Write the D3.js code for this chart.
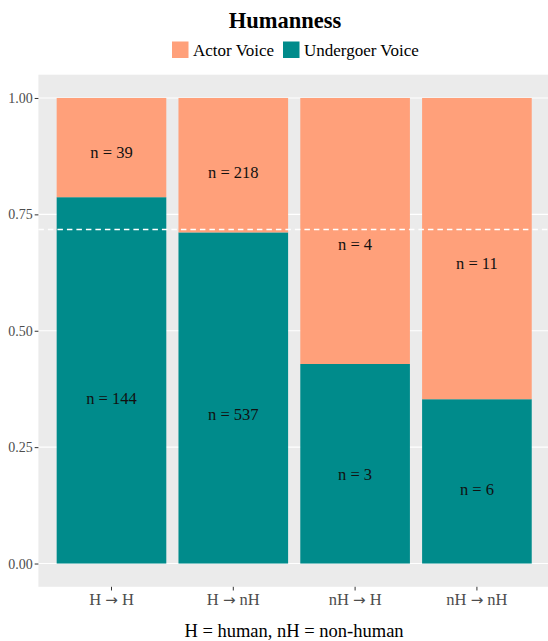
<!DOCTYPE html>
<html>
<head>
<meta charset="utf-8">
<script src="https://cdn.jsdelivr.net/npm/d3@7"></script>
<style>
  html, body { margin: 0; padding: 0; background: #fff; }
  svg { display: block; font-family: "Liberation Serif", "DejaVu Serif", serif; }
</style>
</head>
<body>
<svg id="chart" width="548" height="641"></svg>
<script>
// ---- data ----
const categories = ["H \u2192 H", "H \u2192 nH", "nH \u2192 H", "nH \u2192 nH"];
const actorCounts = [39, 218, 4, 11];
const undergoerCounts = [144, 537, 3, 6];
const seriesNames = ["Actor Voice", "Undergoer Voice"];
const seriesColors = ["#FFA07A", "#008B8B"];
const yTicks = [0, 0.25, 0.5, 0.75, 1.0];
const titleText = "Humanness";
const xTitleText = "H = human, nH = non-human";

// ---- layout ----
const svg = d3.select("#chart");
const panel = { left: 38.4, right: 550, top: 74.7, bottom: 586.8 };

const x = d3.scaleBand()
  .domain(categories)
  .range([panel.left, panel.right])
  .paddingInner(0.1)
  .paddingOuter(0.15);

const y = d3.scaleLinear()
  .domain([-0.05, 1.05])
  .range([panel.bottom, panel.top]);

// panel background
svg.append("rect")
  .attr("x", panel.left).attr("y", panel.top)
  .attr("width", panel.right - panel.left)
  .attr("height", panel.bottom - panel.top)
  .attr("fill", "#EBEBEB");

// gridlines
svg.append("g").selectAll("line").data(yTicks).join("line")
  .attr("x1", panel.left).attr("x2", panel.right)
  .attr("y1", d => y(d)).attr("y2", d => y(d))
  .attr("stroke", "#fff").attr("stroke-width", 1.1);

// stacked data
const rows = categories.map((c, i) => {
  const total = actorCounts[i] + undergoerCounts[i];
  const u = undergoerCounts[i] / total;
  return { cat: c, u, nA: actorCounts[i], nU: undergoerCounts[i] };
});

const segs = [];
rows.forEach(r => {
  segs.push({ cat: r.cat, y0: 0, y1: r.u, n: r.nU, color: seriesColors[1] });
  segs.push({ cat: r.cat, y0: r.u, y1: 1, n: r.nA, color: seriesColors[0] });
});

svg.append("g").selectAll("rect").data(segs).join("rect")
  .attr("x", d => x(d.cat))
  .attr("width", x.bandwidth())
  .attr("y", d => y(d.y1))
  .attr("height", d => y(d.y0) - y(d.y1))
  .attr("fill", d => d.color);

// overall reference line
const overall = d3.sum(undergoerCounts) / (d3.sum(undergoerCounts) + d3.sum(actorCounts));
svg.append("line")
  .attr("x1", panel.left).attr("x2", panel.right)
  .attr("y1", y(overall)).attr("y2", y(overall))
  .attr("stroke", "#fff").attr("stroke-width", 1.5)
  .attr("stroke-dasharray", "5.5,4");

// n labels
svg.append("g").selectAll("text").data(segs).join("text")
  .attr("x", d => x(d.cat) + x.bandwidth() / 2)
  .attr("y", d => y(d.y0 + 0.45 * (d.y1 - d.y0)))
  .attr("dy", "0.35em")
  .attr("text-anchor", "middle")
  .attr("font-size", 16.5)
  .attr("fill", "#111")
  .text(d => "n = " + d.n);

// y axis
const yAxisG = svg.append("g")
  .attr("transform", `translate(${panel.left},0)`)
  .call(d3.axisLeft(y).tickValues(yTicks).tickFormat(d3.format(".2f")).tickSize(3.7).tickPadding(2));
yAxisG.select(".domain").remove();
yAxisG.selectAll(".tick line").attr("stroke", "#333");
yAxisG.selectAll(".tick text").attr("fill", "#4D4D4D").attr("font-size", 14)
  .attr("font-family", "Liberation Serif, serif");

// x axis
const xAxisG = svg.append("g")
  .attr("transform", `translate(0,${panel.bottom})`)
  .call(d3.axisBottom(x).tickSize(3.7).tickPadding(3));
xAxisG.select(".domain").remove();
xAxisG.selectAll(".tick line").attr("stroke", "#333");
xAxisG.selectAll(".tick text")
  .attr("fill", "#4D4D4D").attr("font-size", 16.5)
  .attr("font-family", "Liberation Serif, serif")
  .style("white-space", "pre")
  .each(function(d) {
    const t = d3.select(this);
    const parts = d.split("\u2192").map(s => s.trim());
    t.text(null);
    t.append("tspan").text(parts[0] + "\u00A0");
    t.append("tspan").attr("font-family", "DejaVu Sans, sans-serif").attr("font-size", 15).text("\u2192");
    t.append("tspan").text("\u00A0" + parts[1]);
  });

// x title
svg.append("text")
  .attr("x", 294).attr("y", 637)
  .attr("text-anchor", "middle")
  .attr("font-size", 18.5)
  .attr("fill", "#000")
  .text(xTitleText);

// title
svg.append("text")
  .attr("x", 285).attr("y", 28)
  .attr("text-anchor", "middle")
  .attr("font-size", 22.5)
  .attr("font-weight", "bold")
  .attr("fill", "#000")
  .text(titleText);

// legend
const legend = svg.append("g");
const legendItems = [
  { name: seriesNames[0], color: seriesColors[0], x: 172 },
  { name: seriesNames[1], color: seriesColors[1], x: 283 }
];
legendItems.forEach(it => {
  legend.append("rect").attr("x", it.x).attr("y", 41.5).attr("width", 16.5).attr("height", 16.5)
    .attr("fill", it.color);
  legend.append("text").attr("x", it.x + 21).attr("y", 56)
    .attr("font-size", 17).attr("fill", "#000").text(it.name);
});
</script>
</body>
</html>
